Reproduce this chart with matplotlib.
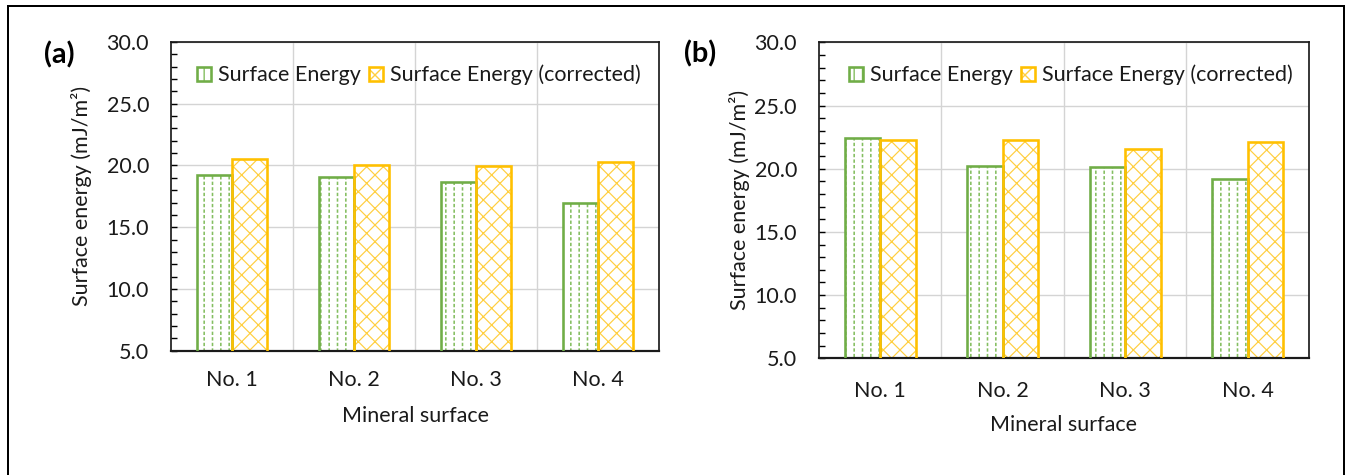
import matplotlib
matplotlib.use('Agg')
import matplotlib.pyplot as plt
from matplotlib.ticker import MultipleLocator
from matplotlib.patches import Rectangle
from matplotlib.legend_handler import HandlerTuple
import numpy as np

# ---------------- data ----------------
categories = ['No. 1', 'No. 2', 'No. 3', 'No. 4']
series_names = ['Surface Energy', 'Surface Energy (corrected)']
se_a = [19.2, 19.05, 18.7, 17.0]
sec_a = [20.5, 20.05, 19.95, 20.25]
se_b = [22.4, 20.25, 20.1, 19.15]
sec_b = [22.25, 22.3, 21.55, 22.15]
y_ticks = [5.0, 10.0, 15.0, 20.0, 25.0, 30.0]
y_label = 'Surface energy (mJ/m²)'
x_label = 'Mineral surface'
panel_labels = ['(a)', '(b)']

# ---------------- style ----------------
DPI = 100
W_PX, H_PX = 1346, 475


def pt(px):
    """pixel size -> points at this dpi"""
    return px * 72.0 / DPI


plt.rcParams['font.family'] = ['Lato', 'DejaVu Sans']
FS = pt(21.5)
TXT = '#1a1a1a'
GREEN = '#70AD47'
GREEN_H = '#84BE60'
ORANGE = '#FFC000'
ORANGE_H = '#FFCF40'
GRID = '#d4d4d4'
W = 0.29

fig = plt.figure(figsize=(W_PX / DPI, H_PX / DPI), dpi=DPI)


def frac_box(l, t, r, b):
    return [l / W_PX, 1 - b / H_PX, (r - l) / W_PX, (b - t) / H_PX]


def make_green(ax, x, vals):
    with plt.rc_context({'hatch.linewidth': pt(1.6)}):
        hb = ax.bar(x, vals, W, color='white', edgecolor=GREEN_H, hatch='||',
                    linewidth=0, zorder=2)
    with plt.rc_context({'hatch.linewidth': pt(2.2)}):
        ax.bar(x, vals, W, facecolor='none', edgecolor='white', hatch='---',
               linewidth=0, zorder=2.5)
    ob = ax.bar(x, vals, W, facecolor='none', edgecolor=GREEN,
                linewidth=pt(2.6), zorder=3)
    return hb[0], ob[0]


def make_orange(ax, x, vals):
    with plt.rc_context({'hatch.linewidth': pt(1.2)}):
        hb = ax.bar(x, vals, W, color='white', edgecolor=ORANGE_H, hatch='xx',
                    linewidth=0, zorder=2)
    ob = ax.bar(x, vals, W, facecolor='none', edgecolor=ORANGE,
                linewidth=pt(2.6), zorder=3)
    return hb[0], ob[0]


def panel(ax, se, sec, leg_xy, ylab_xy, xlab_xy, xpad):
    x = np.arange(len(categories))
    h1 = make_green(ax, x - W / 2, se)
    h2 = make_orange(ax, x + W / 2, sec)
    ax.set_xlim(-0.5, len(categories) - 0.5)
    ax.set_ylim(y_ticks[0], y_ticks[-1])
    ax.set_yticks(y_ticks)
    ax.set_yticklabels([f'{v:.1f}' for v in y_ticks])
    ax.yaxis.set_minor_locator(MultipleLocator(1))
    ax.set_xticks(x)
    ax.set_xticklabels(categories)
    ax.set_xticks(x[:-1] + 0.5, minor=True)
    ax.set_axisbelow(True)
    ax.grid(axis='y', which='major', color=GRID, lw=pt(1.4), zorder=0)
    ax.grid(axis='x', which='minor', color=GRID, lw=pt(1.4), zorder=0)
    ax.tick_params(axis='y', which='both', direction='in', length=pt(6),
                   width=pt(1.4), pad=pt(22), labelsize=FS, labelcolor=TXT)
    ax.tick_params(axis='x', which='both', length=0, pad=pt(xpad),
                   labelsize=FS, labelcolor=TXT)
    for s in ax.spines.values():
        s.set_color('#1a1a1a')
        s.set_linewidth(pt(1.7))
    ax.spines['bottom'].set_linewidth(pt(2.2))
    ax.set_ylabel(y_label, fontsize=FS, color=TXT)
    ax.yaxis.set_label_coords(*ylab_xy)
    ax.set_xlabel(x_label, fontsize=FS, color=TXT)
    ax.xaxis.set_label_coords(*xlab_xy)
    ax.legend([h1, h2], series_names,
              handler_map={tuple: HandlerTuple(ndivide=1, pad=0)},
              ncol=2, frameon=False, loc='center', bbox_to_anchor=leg_xy,
              fontsize=FS, handlelength=0.65, handleheight=0.65,
              handletextpad=0.35, columnspacing=0.35, borderpad=0,
              labelcolor=TXT)


ax1 = fig.add_axes(frac_box(171, 42, 659, 350.7))
ax2 = fig.add_axes(frac_box(819, 42.3, 1309, 358.3))

panel(ax1, se_a, sec_a, (0.508, 0.893), (-0.162, 0.5), (0.5, -0.179), 19)
panel(ax2, se_b, sec_b, (0.514, 0.896), (-0.141, 0.5), (0.5, -0.179), 23)

fig.text(59 / W_PX, 1 - 55 / H_PX, panel_labels[0], fontsize=pt(29),
         fontweight='bold', ha='center', va='center', color='black')
fig.text(700 / W_PX, 1 - 53.5 / H_PX, panel_labels[1], fontsize=pt(29),
         fontweight='bold', ha='center', va='center', color='black')

fig.add_artist(Rectangle((7.5 / W_PX, -0.02), (1344 - 7.5) / W_PX,
                         1.02 - 6.5 / H_PX, transform=fig.transFigure,
                         fill=False, edgecolor='black', linewidth=pt(2)))

fig.savefig('out.png', dpi=DPI)
